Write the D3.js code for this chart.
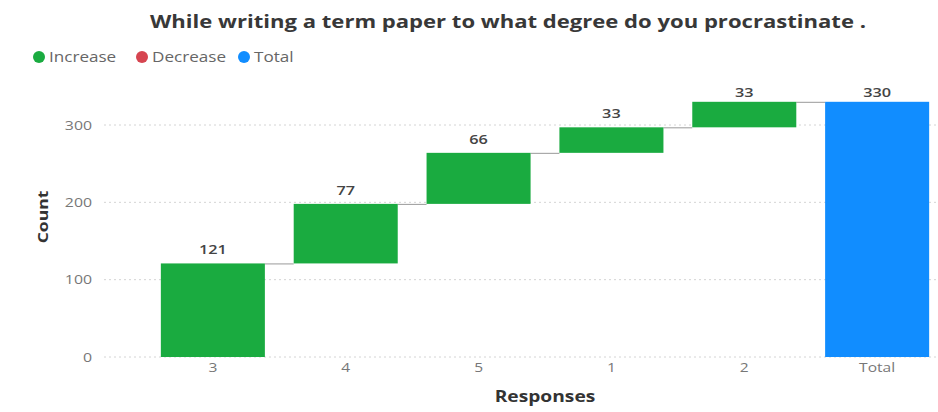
<!DOCTYPE html>
<html>
<head>
<meta charset="utf-8">
<script src="https://cdn.jsdelivr.net/npm/d3@7"></script>
<style>
  html, body { margin: 0; padding: 0; background: #fff; }
  svg { display: block; font-family: "Open Sans", "Noto Sans", sans-serif; }
</style>
</head>
<body>
<svg id="chart" width="938" height="412"></svg>
<script>
// Waterfall data: response categories and their counts
const categories = ["3", "4", "5", "1", "2"];
const counts = [121, 77, 66, 33, 33];
const totalLabel = "Total";
const yTicks = [0, 100, 200, 300];
const legendItems = ["Increase", "Decrease", "Total"];
const legendColors = ["#1aab40", "#d64550", "#118dff"];

const svg = d3.select("#chart");

// Widen text horizontally by a factor, keeping its anchor
function widen(sel, factor) {
  sel.each(function () {
    const len = this.getComputedTextLength();
    if (len > 0) {
      d3.select(this)
        .attr("textLength", (len * factor).toFixed(1))
        .attr("lengthAdjust", "spacingAndGlyphs");
    }
  });
}

// Build the step records (start/end of each floating bar)
let running = 0;
const steps = categories.map((c, i) => {
  const start = running;
  running += counts[i];
  return { name: c, start, end: running, value: counts[i], type: "inc" };
});
const total = running;
steps.push({ name: totalLabel, start: 0, end: total, value: total, type: "total" });

const x = d3.scaleBand()
  .domain(steps.map(d => d.name))
  .range([146.5, 943.5])
  .paddingInner(0.217)
  .paddingOuter(0.108);

const y = d3.scaleLinear().domain([0, 300]).range([357, 125]);

// Gridlines
svg.append("g")
  .selectAll("line")
  .data(yTicks)
  .join("line")
  .attr("x1", 104).attr("x2", 936)
  .attr("y1", d => y(d)).attr("y2", d => y(d))
  .attr("stroke", "#d4d4d4")
  .attr("stroke-width", 1)
  .attr("stroke-dasharray", "2,3");

// Y axis tick labels
const yAxis = svg.append("g")
  .attr("transform", "translate(92,0)")
  .call(d3.axisLeft(y).tickValues(yTicks).tickSize(0).tickPadding(0));
yAxis.select(".domain").remove();
yAxis.selectAll("text")
  .attr("fill", "#777")
  .style("font-size", "13px")
  .style("font-family", "\"Open Sans\", sans-serif")
  .call(widen, 1.22);

// X axis tick labels
const xAxis = svg.append("g")
  .attr("transform", "translate(0,363)")
  .call(d3.axisBottom(x).tickSize(0).tickPadding(0));
xAxis.select(".domain").remove();
xAxis.selectAll("text")
  .attr("fill", "#777")
  .attr("dy", "0.71em")
  .style("font-size", "13px")
  .style("font-family", "\"Open Sans\", sans-serif")
  .call(widen, 1.2);

// Connector lines between consecutive bars
svg.append("g")
  .selectAll("line")
  .data(steps.slice(0, -1))
  .join("line")
  .attr("x1", d => x(d.name) + x.bandwidth())
  .attr("x2", (d, i) => x(steps[i + 1].name))
  .attr("y1", d => y(d.end) + 0.5)
  .attr("y2", d => y(d.end) + 0.5)
  .attr("stroke", "#999")
  .attr("stroke-width", 1);

// Bars
svg.append("g")
  .selectAll("rect")
  .data(steps)
  .join("rect")
  .attr("x", d => x(d.name))
  .attr("width", x.bandwidth())
  .attr("y", d => y(d.end))
  .attr("height", d => y(d.start) - y(d.end))
  .attr("fill", d => d.type === "total" ? legendColors[2] : legendColors[0]);

// Value labels, kept inside the plot's top edge
svg.append("g")
  .selectAll("text")
  .data(steps)
  .join("text")
  .attr("x", d => x(d.name) + x.bandwidth() / 2)
  .attr("y", d => Math.max(y(d.end) - 9, 97))
  .attr("text-anchor", "middle")
  .attr("fill", "#444")
  .style("font-size", "12.5px")
  .style("font-weight", "600")
  .text(d => d.value)
  .call(widen, 1.3);

// Title
svg.append("text")
  .attr("x", 508)
  .attr("y", 28)
  .attr("text-anchor", "middle")
  .attr("fill", "#383838")
  .attr("textLength", 716)
  .attr("lengthAdjust", "spacingAndGlyphs")
  .style("font-size", "17px")
  .style("font-weight", "700")
  .text("While writing a term paper to what degree do you procrastinate .");

// Legend
const legendX = [39, 142, 244];
const lg = svg.append("g");
legendItems.forEach((name, i) => {
  lg.append("circle")
    .attr("cx", legendX[i]).attr("cy", 57).attr("r", 6)
    .attr("fill", legendColors[i]);
  lg.append("text")
    .attr("x", legendX[i] + 10).attr("y", 62)
    .attr("fill", "#666")
    .style("font-size", "14px")
    .text(name)
    .call(widen, 1.22);
});

// Axis titles
svg.append("text")
  .attr("transform", "translate(48,217) rotate(-90)")
  .attr("text-anchor", "middle")
  .attr("fill", "#333")
  .style("font-size", "14px")
  .style("font-weight", "700")
  .text("Count")
  .call(widen, 1.25);

svg.append("text")
  .attr("x", 545)
  .attr("y", 402)
  .attr("text-anchor", "middle")
  .attr("fill", "#333")
  .style("font-size", "16px")
  .style("font-weight", "700")
  .text("Responses")
  .call(widen, 1.2);
</script>
</body>
</html>
